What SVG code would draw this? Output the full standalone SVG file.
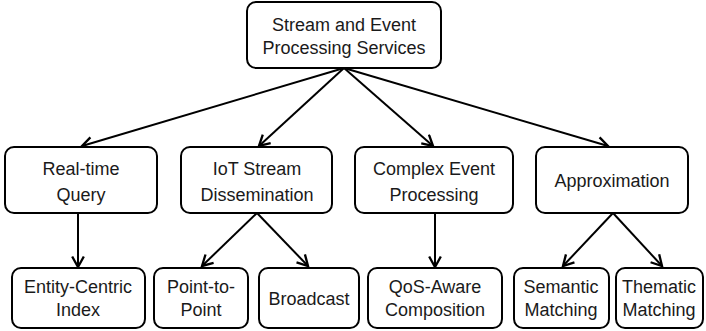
<svg xmlns="http://www.w3.org/2000/svg" width="706" height="331" viewBox="0 0 706 331">
<style>
.box{fill:#fff;stroke:#000;stroke-width:2}
.t{font-family:"Liberation Sans",Arial,sans-serif;font-size:18px;fill:#1a1a1a;text-anchor:middle}
.c{stroke:#000;stroke-width:2;fill:none;marker-end:url(#ah)}
</style>
<defs>
<marker id="ah" markerUnits="userSpaceOnUse" markerWidth="14" markerHeight="14" refX="10" refY="6" orient="auto" viewBox="0 0 12 12">
<path d="M1,1 L10,6 L1,11" fill="none" stroke="#000" stroke-width="2"/>
</marker>
</defs>
<g id="connectors">
<line class="c" x1="344" y1="68" x2="82" y2="146"/>
<line class="c" x1="344" y1="68" x2="259" y2="146"/>
<line class="c" x1="344" y1="68" x2="433" y2="146"/>
<line class="c" x1="344" y1="68" x2="608" y2="146"/>
<line class="c" x1="78" y1="213" x2="78" y2="267"/>
<line class="c" x1="257" y1="213" x2="202" y2="266"/>
<line class="c" x1="257" y1="213" x2="308" y2="266"/>
<line class="c" x1="435" y1="213" x2="435" y2="267"/>
<line class="c" x1="613" y1="213" x2="563" y2="266"/>
<line class="c" x1="613" y1="213" x2="662" y2="266"/>
</g>
<g id="root"><rect class="box" x="247" y="2" width="194" height="66" rx="9"/>
<text class="t" x="344" y="31">Stream and Event</text><text class="t" x="344" y="54">Processing Services</text></g>
<g id="realtime"><rect class="box" x="5" y="147" width="152" height="66" rx="9"/>
<text class="t" x="81" y="175">Real-time</text><text class="t" x="81" y="201">Query</text></g>
<g id="iot"><rect class="box" x="181" y="147" width="151" height="66" rx="9"/>
<text class="t" x="257" y="175">IoT Stream</text><text class="t" x="257" y="201">Dissemination</text></g>
<g id="cep"><rect class="box" x="355" y="147" width="158" height="66" rx="9"/>
<text class="t" x="434" y="175">Complex Event</text><text class="t" x="434" y="201">Processing</text></g>
<g id="approx"><rect class="box" x="536" y="147" width="152" height="66" rx="9"/>
<text class="t" x="612" y="187">Approximation</text></g>
<g id="entity"><rect class="box" x="12" y="268" width="133" height="60" rx="9"/>
<text class="t" x="78" y="293">Entity-Centric</text><text class="t" x="78" y="316">Index</text></g>
<g id="p2p"><rect class="box" x="154" y="268" width="94" height="60" rx="9"/>
<text class="t" x="201" y="293">Point-to-</text><text class="t" x="201" y="316">Point</text></g>
<g id="broadcast"><rect class="box" x="259" y="268" width="100" height="60" rx="9"/>
<text class="t" x="309" y="305">Broadcast</text></g>
<g id="qos"><rect class="box" x="368" y="268" width="134" height="60" rx="9"/>
<text class="t" x="435" y="293">QoS-Aware</text><text class="t" x="435" y="316">Composition</text></g>
<g id="semantic"><rect class="box" x="514" y="268" width="95" height="60" rx="9"/>
<text class="t" x="561" y="293">Semantic</text><text class="t" x="561" y="316">Matching</text></g>
<g id="thematic"><rect class="box" x="616" y="268" width="87" height="60" rx="9"/>
<text class="t" x="659" y="293">Thematic</text><text class="t" x="659" y="316">Matching</text></g>
</svg>
